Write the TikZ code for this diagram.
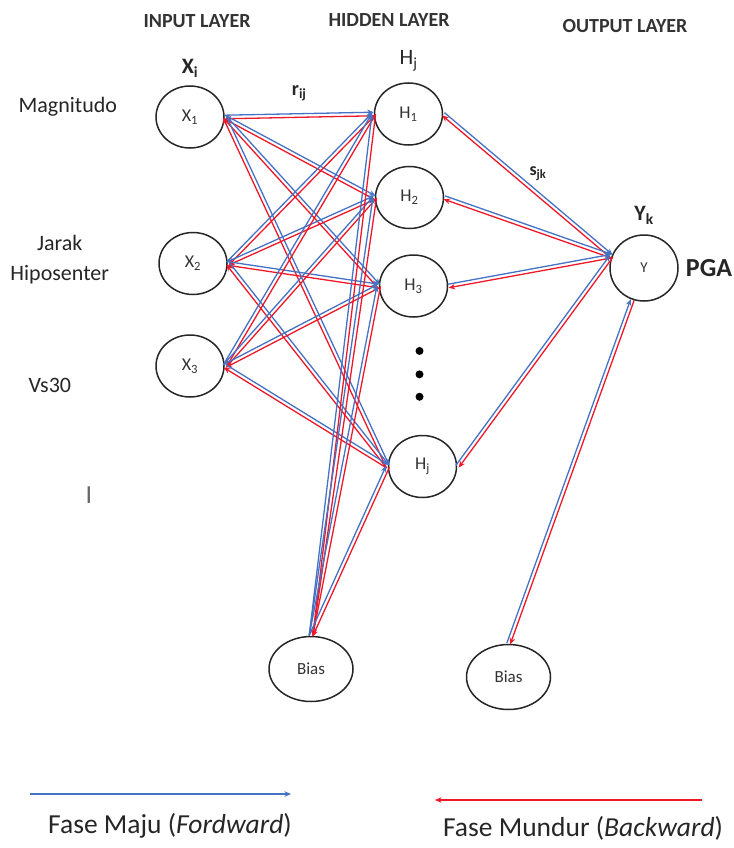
\documentclass[tikz,border=0pt]{standalone}
\usepackage{fontspec}
\setmainfont{Carlito}
\usepackage{tikz}
\usetikzlibrary{shapes.geometric, arrows.meta, positioning, calc}
\definecolor{fwdblue}{RGB}{68,114,196}
\definecolor{bwdred}{RGB}{238,24,40}
\tikzstyle{neuron} = [ellipse, draw=black!85, line width=1.5pt, minimum width=68pt, minimum height=62pt, inner sep=0pt, font=\fontsize{18}{20}\selectfont, text=black!80]
\tikzstyle{biasnode} = [neuron, minimum width=84pt, minimum height=65pt, font=\fontsize{17}{20}\selectfont]
\tikzstyle{fwd} = [line width=1.3pt, draw=fwdblue, -{Stealth[length=6.5pt, width=5.5pt]}]
\tikzstyle{bwd} = [line width=1.3pt, draw=bwdred, -{Stealth[length=6.5pt, width=5.5pt]}]
\tikzstyle{hdr} = [inner sep=0pt, font=\bfseries\fontsize{20}{22}\selectfont, text=black!80]
\tikzstyle{lbl} = [inner sep=0pt, font=\fontsize{22}{30}\selectfont, text=black!85, align=center]
\tikzstyle{legend} = [inner sep=0pt, font=\fontsize{27.5}{30}\selectfont, text=black!85]
\tikzstyle{dot} = [circle, fill=black, minimum size=8pt, inner sep=0pt]
% pair of weights: blue forward (a -> b), red backward (b -> a)
\newcommand{\wpair}[2]{%
  \draw [fwd] ($(#1)!1.8pt!90:(#2)$) -- ($(#2)!1.8pt!-90:(#1)$);
  \draw [bwd] ($(#2)!1.8pt!90:(#1)$) -- ($(#1)!1.8pt!-90:(#2)$);}

\begin{document}
\begin{tikzpicture}[x=1pt, y=1pt]
    \useasboundingbox (0,0) rectangle (733,-848);

    % Input layer
    \node (x1) [neuron] at (190,-117) {X\textsubscript{1}};
    \node (x2) [neuron, below=83pt of x1, xshift=3pt] {X\textsubscript{2}};
    \node (x3) [neuron, below=39pt of x2, xshift=-3pt] {X\textsubscript{3}};

    % Hidden layer
    \node (h1) [neuron, right=149pt of x1, yshift=3pt] {H\textsubscript{1}};
    \node (h2) [neuron, below=20pt of h1, xshift=1pt] {H\textsubscript{2}};
    \node (h3) [neuron, below=25pt of h2, xshift=4pt] {H\textsubscript{3}};
    \node (hj) [neuron, below=117pt of h3, xshift=9pt] {H\textsubscript{j}};
    \node (dot1) [dot, below=29pt of h3, xshift=6pt] {};
    \node (dot2) [dot, below=15pt of dot1] {};
    \node (dot3) [dot, below=14pt of dot2] {};

    % Output layer
    \node (y) [neuron, minimum height=66pt, font=\fontsize{15}{18}\selectfont, right=161pt of h3, yshift=18pt] {Y};

    % Bias
    \node (bias1) [biasnode] at (311,-669) {Bias};
    \node (bias2) [biasnode, right=112pt of bias1, yshift=-8pt] {Bias};

    % Judul lapisan
    \node (inhdr) [hdr] at (197,-21) {INPUT LAYER};
    \node (hidhdr) [hdr] at (389,-20) {HIDDEN LAYER};
    \node (outhdr) [hdr] at (625,-26) {OUTPUT LAYER};

    % Label
    \node (xilbl) [lbl, font=\bfseries\fontsize{22}{26}\selectfont, above=8pt of x1] {X\textsubscript{i}};
    \node (hjlbl) [lbl, above=11pt of h1] {H\textsubscript{j}};
    \node (yklbl) [lbl, font=\bfseries\fontsize{22}{26}\selectfont, above=10pt of y] {Y\textsubscript{k}};
    \node (pga) [lbl, font=\bfseries\fontsize{26}{28}\selectfont, right=7pt of y] {PGA};
    \node (mag) [lbl, left=38pt of x1, yshift=10pt] {Magnitudo};
    \node (jarak) [lbl, left=49pt of x2, yshift=4pt] {Jarak\\Hiposenter};
    \node (vs) [lbl, left=84pt of x3, yshift=-19pt] {Vs30};
    \node (cursor) [lbl, text=black!60, font=\fontsize{26}{30}\selectfont] at (89,-495) {I};

    % Bobot input - hidden
    \wpair{x1.east}{h1.west}
    \wpair{x1.east}{h2.west}
    \wpair{x1.east}{h3.west}
    \wpair{x1.east}{hj.west}
    \wpair{x2.east}{h1.west}
    \wpair{x2.east}{h2.west}
    \wpair{x2.east}{h3.west}
    \wpair{x2.east}{hj.west}
    \wpair{x3.east}{h1.west}
    \wpair{x3.east}{h2.west}
    \wpair{x3.east}{h3.west}
    \wpair{x3.east}{hj.west}
    \wpair{bias1.north}{h1.west}
    \wpair{bias1.north}{h2.west}
    \wpair{bias1.north}{h3.west}
    \wpair{bias1.north}{hj.west}

    % Bobot hidden - output
    \wpair{h1.east}{y.160}
    \wpair{h2.east}{y.160}
    \wpair{h3.east}{y.160}
    \wpair{hj.east}{y.160}
    \wpair{bias2.north}{y.250}

    \path (x1.east) -- (h1.west) node (rij) [lbl, midway, above=14pt, font=\bfseries\fontsize{20}{24}\selectfont] {r\textsubscript{ij}};
    \path (h1.east) -- (y.160) node (sjk) [lbl, midway, above right=4pt and 2pt, font=\bfseries\fontsize{18}{22}\selectfont] {s\textsubscript{jk}};

    % Keterangan
    \coordinate (fwdstart) at (30,-794);
    \coordinate (fwdend) at (291,-794);
    \coordinate (bwdstart) at (702,-800);
    \coordinate (bwdend) at (435,-800);
    \draw [fwd, line width=1.4pt] (fwdstart) -- (fwdend);
    \draw [bwd, line width=1.4pt] (bwdstart) -- (bwdend);
    \node (fwdtxt) [legend] at (170,-826) {Fase Maju (\textit{Fordward})};
    \node (bwdtxt) [legend] at (583,-828) {Fase Mundur (\textit{Backward})};
\end{tikzpicture}
\end{document}
